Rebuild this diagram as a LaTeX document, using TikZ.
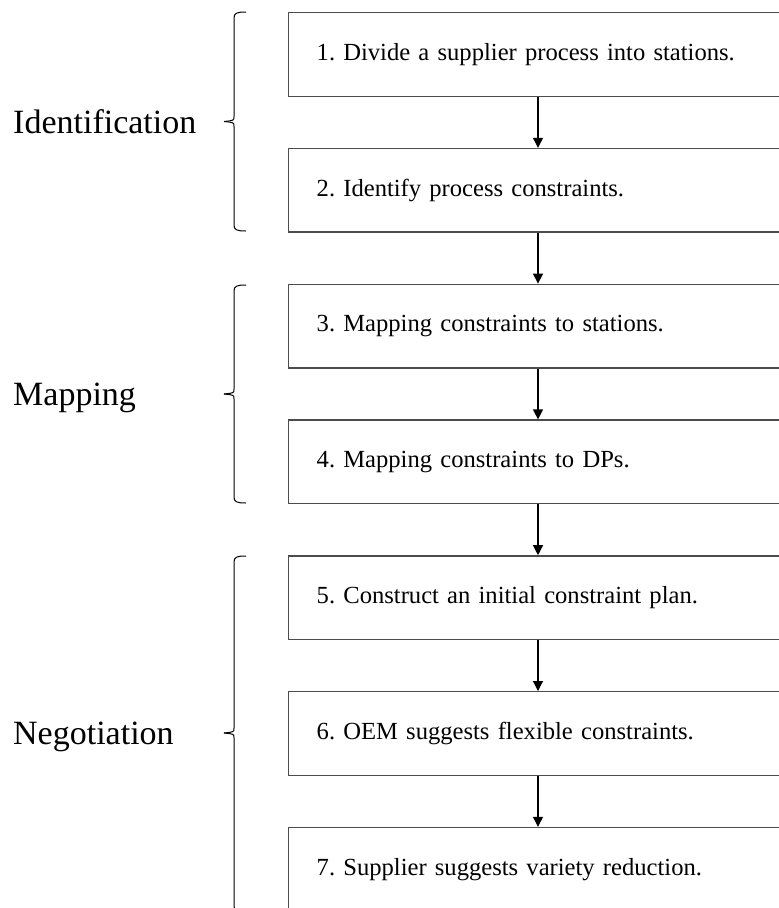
\documentclass[tikz,border=0pt]{standalone}
\usepackage{fontspec}
\setmainfont{Liberation Serif}
\usetikzlibrary{arrows.meta,calc}
\protected\def\stepboxfont{\fontsize{24.6}{28}\selectfont\spaceskip=0.15em plus 0.05em minus 0.05em\relax}
\tikzset{
  stepbox/.style={draw=black!70, line width=1.4pt, rectangle, anchor=north west,
    minimum width=540pt, minimum height=83.5pt, text width=484pt, inner xsep=28pt,
    align=left, font=\stepboxfont},
  arr/.style={-{Triangle[length=10pt,width=10pt]}, line width=1.2pt, black},
  bracepath/.style={line width=1pt, black},
  phase/.style={anchor=base west, inner sep=0pt, font=\fontsize{34}{40}\selectfont}
}
\begin{document}
\frenchspacing
\begin{tikzpicture}[x=1pt,y=-1pt]
\useasboundingbox (0,0) rectangle (779,908);
\clip (0,0) rectangle (779,908);
% boxes
\node[stepbox] (b1) at (288,12) {1. Divide a supplier process into stations.};
\node[stepbox] (b2) at (288,147.8) {2. Identify process constraints.};
\node[stepbox] (b3) at (288,283.6) {3. Mapping constraints to stations.};
\node[stepbox] (b4) at (288,419.4) {4. Mapping constraints to DPs.};
\node[stepbox] (b5) at (288,555.2) {5. Construct an initial constraint plan.};
\node[stepbox] (b6) at (288,691) {6. OEM suggests flexible constraints.};
\node[stepbox] (b7) at (288,826.8) {7. Supplier suggests variety reduction.};
% arrows
\coordinate (ax) at (538,0);
\foreach \a/\b in {b1/b2,b2/b3,b3/b4,b4/b5,b5/b6,b6/b7}
  \draw[arr] (\a.south -| ax) -- (\b.north -| ax);
% braces
\coordinate (i1) at (234,12);   \coordinate (i2) at (234,231); \coordinate (im) at (234,121.5);
\coordinate (m1) at (234,285);  \coordinate (m2) at (234,503); \coordinate (mm) at (234,394);
\coordinate (n1) at (234,556);  \coordinate (n2) at (234,912); \coordinate (nm) at (234,733);
\foreach \t/\m/\bt in {i1/im/i2, m1/mm/m2, n1/nm/n2}{
  \draw[bracepath] ($(\t)+(12,0)$) .. controls ($(\t)+(3,0)$) and ($(\t)+(0,1)$) .. ($(\t)+(0,6)$)
     -- ($(\m)+(0,-5)$) .. controls ($(\m)+(0,-1)$) .. ($(\m)+(-10,0)$);
  \draw[bracepath] ($(\m)+(-10,0)$) .. controls ($(\m)+(0,1)$) .. ($(\m)+(0,5)$)
     -- ($(\bt)+(0,-6)$) .. controls ($(\bt)+(0,-1)$) and ($(\bt)+(3,0)$) .. ($(\bt)+(12,0)$);
}
% phase labels
\node[phase] (lid) at (13,133) {Identification};
\node[phase] (lmap) at (13,405.3) {Mapping};
\node[phase] (lneg) at (13,744.3) {Negotiation};
\end{tikzpicture}
\end{document}
